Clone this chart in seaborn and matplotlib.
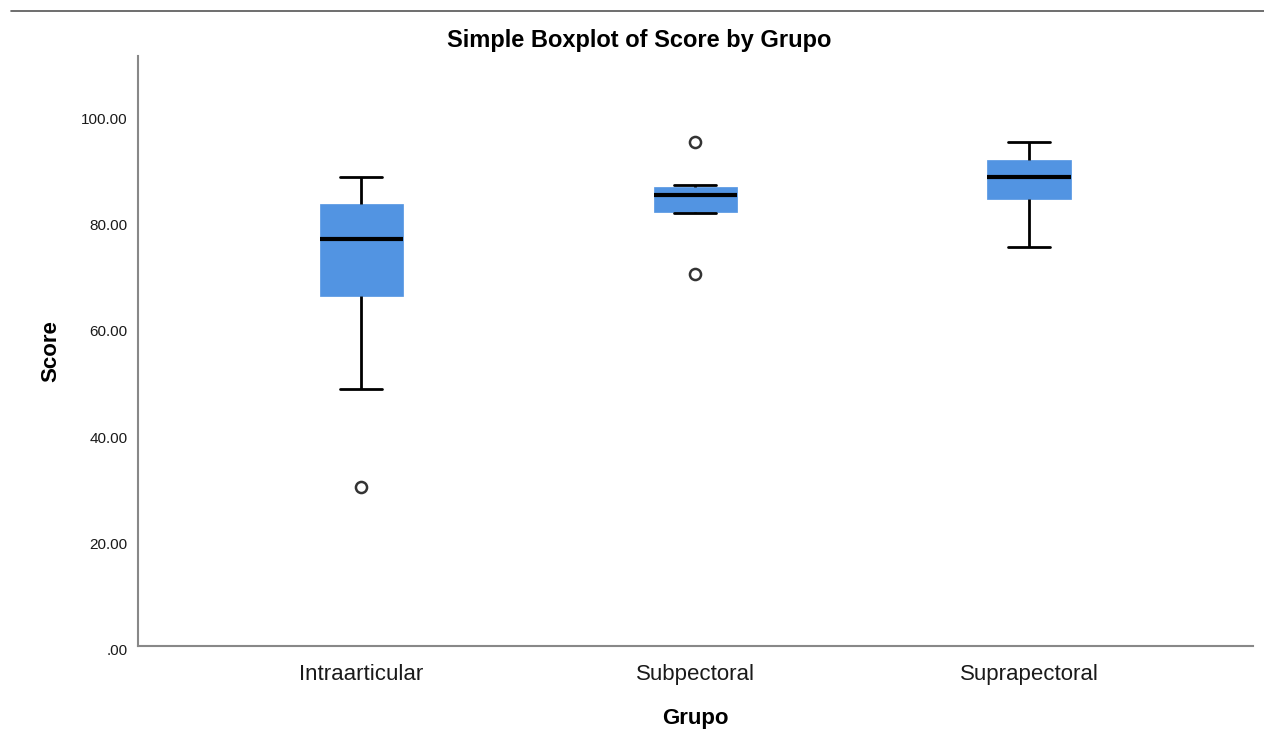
import matplotlib
matplotlib.use("Agg")
import matplotlib.pyplot as plt
import matplotlib.transforms as mtransforms
from matplotlib.lines import Line2D
import pandas as pd
import seaborn as sns

# values (outliers, whisker ends, hinges, medians)
groups = ["Intraarticular", "Subpectoral", "Suprapectoral"]
intraarticular = [30.0, 48.3, 65.9, 65.9, 76.6, 83.2, 83.2, 88.3, 88.3]
subpectoral = [70.0, 81.5, 81.7, 81.7, 84.9, 86.4, 86.4, 86.7, 94.8]
suprapectoral = [75.0, 84.1, 88.2, 91.5, 94.9]
y_ticks = [0, 20, 40, 60, 80, 100]
y_tick_labels = [".00", "20.00", "40.00", "60.00", "80.00", "100.00"]

df = pd.DataFrame({
    "Grupo": [groups[0]] * len(intraarticular)
    + [groups[1]] * len(subpectoral)
    + [groups[2]] * len(suprapectoral),
    "Score": intraarticular + subpectoral + suprapectoral,
})

sns.set_style("white")
plt.rcParams["font.family"] = ["Liberation Sans", "DejaVu Sans"]

fig = plt.figure(figsize=(12.64, 7.32), dpi=100)
ax = fig.add_axes([0.1088, 0.117, 0.8825, 0.8065])

sns.boxplot(
    data=df, x="Grupo", y="Score", order=groups, ax=ax,
    width=0.25, color="#5294e2", saturation=1,
    linewidth=2, linecolor="black",
    boxprops=dict(edgecolor="#5294e2", linewidth=0.5),
    medianprops=dict(color="black", linewidth=3),
    whiskerprops=dict(color="black", linewidth=2),
    capprops=dict(color="black", linewidth=2),
    flierprops=dict(marker="o", markersize=8, markerfacecolor="white",
                    markeredgecolor="#333333", markeredgewidth=1.8),
)

ax.set_xlim(-0.67, 2.67)
ax.set_ylim(0, 111)
ax.set_yticks(y_ticks)
ax.set_yticklabels(y_tick_labels, fontsize=11, color="#1a1a1a")
ax.tick_params(axis="both", length=0)
ax.tick_params(axis="y", pad=7)
ax.tick_params(axis="x", labelsize=16, pad=13, labelcolor="#1a1a1a")
shift = mtransforms.ScaledTranslation(0, -3.5 / 100, fig.dpi_scale_trans)
for lab in ax.get_yticklabels():
    lab.set_transform(lab.get_transform() + shift)

for side in ["top", "right"]:
    ax.spines[side].set_visible(False)
for side in ["left", "bottom"]:
    ax.spines[side].set_color("#888888")
    ax.spines[side].set_linewidth(1.5)

ax.set_xlabel("Grupo", fontsize=16, fontweight="bold", color="black", labelpad=16)
ax.set_ylabel("Score", fontsize=16, fontweight="bold", color="black", labelpad=14)
fig.suptitle("Simple Boxplot of Score by Grupo", x=0.506, y=0.960,
             fontsize=17, fontweight="bold", color="black")

# thin frame line along the top of the output, as in the viewer export
fig.add_artist(Line2D([11 / 1264, 1.0], [1 - 11 / 732, 1 - 11 / 732],
                      color="#555555", linewidth=1.2))

fig.savefig("out.png", dpi=100)
